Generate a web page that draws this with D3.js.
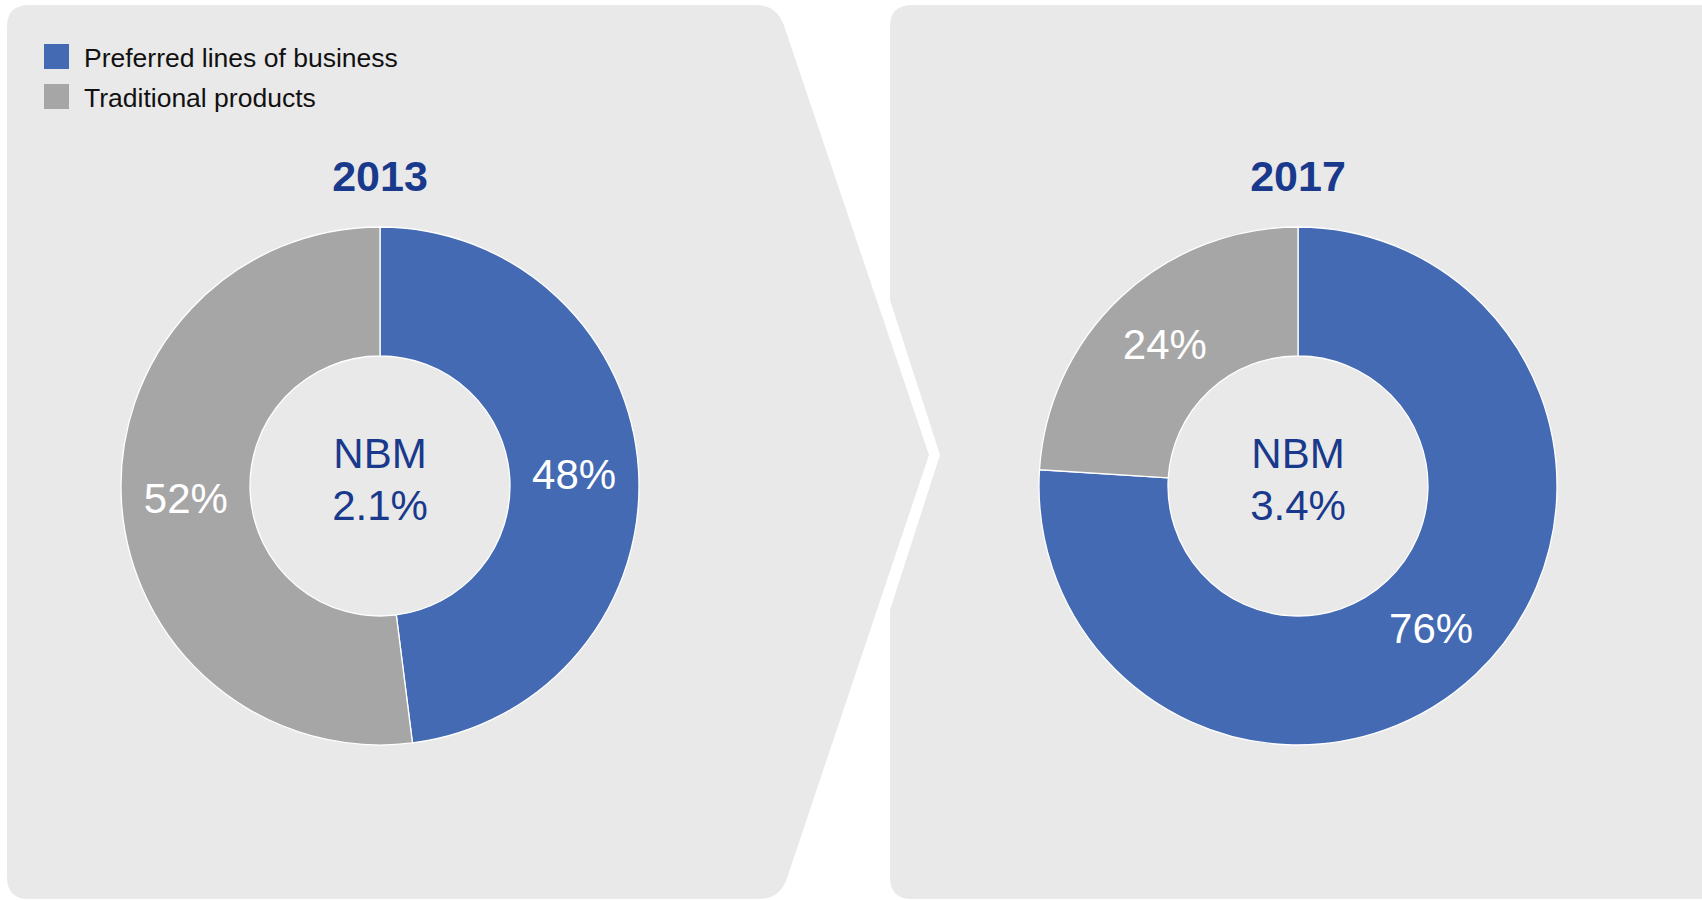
<!DOCTYPE html>
<html>
<head>
<meta charset="utf-8">
<script src="https://cdn.jsdelivr.net/npm/d3@7"></script>
<style>
  html, body { margin: 0; padding: 0; background: #fff; }
  svg { display: block; }
</style>
</head>
<body>
<div id="drawing"></div>
<script>
// chart values
const years = ["2013", "2017"];
const categories = ["Preferred lines of business", "Traditional products"];
const preferredShare = [48, 76];
const traditionalShare = [52, 24];
const nbmRate = [2.1, 3.4];

const colors = ["#436ab3", "#a6a6a6"];
const panelFill = "#e9e9e9";
const darkBlue = "#19398c";

const W = 1702, H = 900;

const svg = d3
  .select("#drawing")
  .append("svg")
  .attr("width", W)
  .attr("height", H)
  .style("font-family", "'Liberation Sans', Arial, sans-serif");

// rounded polygon helper for the panel backgrounds
function roundedPath(pts, radii) {
  const n = pts.length;
  let d = "";
  for (let i = 0; i < n; i++) {
    const p = pts[i], prev = pts[(i - 1 + n) % n], next = pts[(i + 1) % n];
    const r = radii[i];
    if (!r) {
      d += (i === 0 ? "M" : "L") + p[0] + "," + p[1];
      continue;
    }
    const v1 = [prev[0] - p[0], prev[1] - p[1]];
    const v2 = [next[0] - p[0], next[1] - p[1]];
    const l1 = Math.hypot(v1[0], v1[1]), l2 = Math.hypot(v2[0], v2[1]);
    const a = [p[0] + (v1[0] / l1) * r, p[1] + (v1[1] / l1) * r];
    const b = [p[0] + (v2[0] / l2) * r, p[1] + (v2[1] / l2) * r];
    d += (i === 0 ? "M" : "L") + a[0] + "," + a[1];
    d += "Q" + p[0] + "," + p[1] + " " + b[0] + "," + b[1];
  }
  return d + "Z";
}

// left panel (chevron pointing right)
svg.append("path")
  .attr("fill", panelFill)
  .attr("d", roundedPath(
    [[7, 5], [777, 5], [929, 455], [780, 899], [7, 899]],
    [22, 22, 0, 22, 22]
  ));

// right panel (notched on the left)
svg.append("path")
  .attr("fill", panelFill)
  .attr("d", roundedPath(
    [[890, 5], [1720, 5], [1720, 899], [890, 899], [890, 610], [940, 455], [890, 300]],
    [22, 0, 0, 22, 0, 0, 0]
  ));

// legend
const legend = svg.append("g").attr("transform", "translate(44, 44)");
categories.forEach((c, i) => {
  const g = legend.append("g").attr("transform", `translate(0, ${i * 40})`);
  g.append("rect")
    .attr("width", 25)
    .attr("height", 25)
    .attr("fill", colors[i]);
  g.append("text")
    .attr("x", 40)
    .attr("y", 23)
    .attr("font-size", "26.5px")
    .attr("fill", "#111")
    .text(c);
});

// donuts
const xPos = d3.scalePoint().domain(years).range([380, 1298]);
const cy = 486;
const outerR = 259;
const innerR = 130;

const pie = d3.pie().sort(null).value((d) => d.value);
const arc = d3.arc().innerRadius(innerR).outerRadius(outerR);

years.forEach((yr, i) => {
  const data = [
    { key: categories[0], value: preferredShare[i] },
    { key: categories[1], value: traditionalShare[i] },
  ];
  const g = svg.append("g").attr("transform", `translate(${xPos(yr)}, ${cy})`);

  g.selectAll("path.slice")
    .data(pie(data))
    .enter()
    .append("path")
    .attr("class", "slice")
    .attr("d", arc)
    .attr("fill", (d, j) => colors[j])
    .attr("stroke", "#fff")
    .attr("stroke-width", 1.3);

  g.selectAll("text.pct")
    .data(pie(data))
    .enter()
    .append("text")
    .attr("class", "pct")
    .attr("transform", (d) => `translate(${arc.centroid(d)})`)
    .attr("text-anchor", "middle")
    .attr("dy", "0.36em")
    .attr("font-size", "42px")
    .attr("fill", "#fff")
    .text((d) => d.data.value + "%");

  // center text
  g.append("text")
    .attr("text-anchor", "middle")
    .attr("y", -18)
    .attr("font-size", "42px")
    .attr("fill", darkBlue)
    .text("NBM");
  g.append("text")
    .attr("text-anchor", "middle")
    .attr("y", 34)
    .attr("font-size", "42px")
    .attr("fill", darkBlue)
    .text(nbmRate[i].toFixed(1) + "%");

  // year title
  svg.append("text")
    .attr("x", xPos(yr))
    .attr("y", 191)
    .attr("text-anchor", "middle")
    .attr("font-size", "43px")
    .attr("font-weight", "bold")
    .attr("fill", darkBlue)
    .text(yr);
});
</script>
</body>
</html>
